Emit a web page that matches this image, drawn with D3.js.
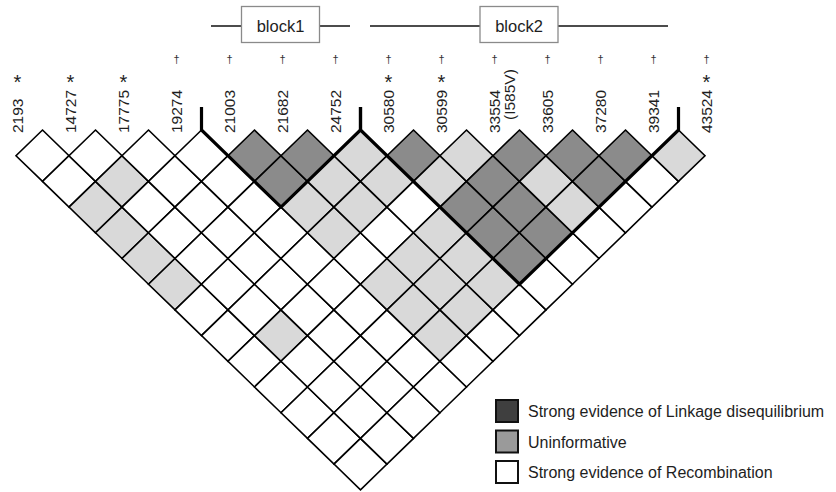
<!DOCTYPE html>
<html>
<head>
<meta charset="utf-8">
<script src="https://cdn.jsdelivr.net/npm/d3@7"></script>
<style>
  html, body { margin: 0; padding: 0; background: #fff; }
  svg { display: block; }
  text { font-family: "Liberation Sans", Arial, sans-serif; fill: #1e1e1e; }
</style>
</head>
<body>
<svg id="chart" width="836" height="492"></svg>
<script>
// Marker positions (bp) along the region
const markers = ["2193", "14727", "17775", "19274", "21003", "21682", "24752",
                 "30580", "30599", "33554", "33605", "37280", "39341", "43524"];
// Second label line for coding variants
const markerNotes = { "33554": "(I585V)" };
// Markers flagged with * and †
const starMarkers = ["2193", "14727", "17775", "30580", "30599", "43524"];
const daggerMarkers = ["19274", "21003", "21682", "24752", "30580", "30599",
                       "33554", "33605", "37280", "39341", "43524"];

// Pairwise LD class, one string per marker i, listing pairs (i, j) for j > i
// D = strong LD, U = uninformative, R = strong evidence of recombination
const ldRows = [
  "RRUUUURRRRRRR",
  "RURRRRRURRRR",
  "RRRRRRRRRRR",
  "RRRRRRRRRR",
  "DDUURUUUR",
  "DUURUUUR",
  "UURUUUR",
  "DUDDDR",
  "UDDDR",
  "DUUR",
  "DDR",
  "DR",
  "U"
];

// Haplotype blocks (first and last marker)
const blocks = [
  { name: "block1", first: "21003", last: "24752" },
  { name: "block2", first: "30580", last: "39341" }
];

const cellFill = { D: "#8b8b8b", U: "#d9d9d9", R: "#ffffff" };
const legendItems = [
  { label: "Strong evidence of Linkage disequilibrium", fill: "#3f3f3f" },
  { label: "Uninformative", fill: "#9a9a9a" },
  { label: "Strong evidence of Recombination", fill: "#ffffff" }
];

const svg = d3.select("#chart");

const x = d3.scalePoint().domain(markers).range([16, 705]);
const w = x.step() / 2;                       // half cell width
const rowTop = 130;                           // top of the first row of cells
const y = d3.scaleLinear().domain([0, markers.length]).range([rowTop, 489.8]);
const h = y(1) - y(0);                        // half cell height

// Build cell list from the LD rows
const cells = [];
ldRows.forEach((row, i) => {
  row.split("").forEach((c, k) => {
    const j = i + k + 1;
    cells.push({ i, j, cls: c });
  });
});

const xi = i => x(markers[i]);

svg.append("g").selectAll("path")
  .data(cells)
  .join("path")
  .attr("d", d => {
    const cx = (xi(d.i) + xi(d.j)) / 2;
    const cy = y(d.j - d.i);
    return `M${cx},${cy - h}L${cx + w},${cy}L${cx},${cy + h}L${cx - w},${cy}Z`;
  })
  .attr("fill", d => cellFill[d.cls])
  .attr("stroke", "#000")
  .attr("stroke-width", 1.6)
  .attr("stroke-linejoin", "miter");

// Block outlines
const blockG = svg.append("g");
blocks.forEach(b => {
  const a = markers.indexOf(b.first), e = markers.indexOf(b.last);
  const xl = xi(a) - w, xr = xi(e) + w;
  const bx = (xi(a) + xi(e)) / 2, by = y(e - a + 1);
  blockG.append("path")
    .attr("d", `M${xl},${rowTop - 23}L${xl},${rowTop}L${bx},${by}L${xr},${rowTop}L${xr},${rowTop - 23}`)
    .attr("fill", "none")
    .attr("stroke", "#000")
    .attr("stroke-width", 3.2)
    .attr("stroke-linejoin", "miter");

  // Block header: line with labelled box
  const lx0 = xi(a) - 17, lx1 = xi(e) + 16, mid = (lx0 + lx1) / 2;
  blockG.append("line")
    .attr("x1", lx0).attr("x2", lx1).attr("y1", 26).attr("y2", 26)
    .attr("stroke", "#111").attr("stroke-width", 1.5);
  blockG.append("rect")
    .attr("x", mid - 39).attr("y", 6.5).attr("width", 78).attr("height", 36)
    .attr("fill", "#fff").attr("stroke", "#8a8a8a").attr("stroke-width", 1.3);
  blockG.append("text")
    .attr("x", mid).attr("y", 26).attr("dy", "0.35em")
    .attr("text-anchor", "middle")
    .attr("font-size", 16.5)
    .text(b.name);
});

// Marker labels, reading upward from just above the cells
const labelG = svg.append("g");
markers.forEach(m => {
  labelG.append("text")
    .attr("transform", `translate(${x(m) + 1.5},133) rotate(-90)`)
    .attr("text-anchor", "start")
    .attr("dy", "0.35em")
    .attr("font-size", 15.5)
    .text(m);
  if (markerNotes[m]) {
    labelG.append("text")
      .attr("transform", `translate(${x(m) + 17},120) rotate(-90)`)
      .attr("text-anchor", "start")
      .attr("dy", "0.35em")
      .attr("font-size", 15.5)
      .text(markerNotes[m]);
  }
});

labelG.selectAll("text.star")
  .data(starMarkers)
  .join("text")
  .attr("class", "star")
  .attr("x", d => x(d) + 1.5)
  .attr("y", 89)
  .attr("text-anchor", "middle")
  .attr("font-size", 20)
  .text("*");

labelG.selectAll("text.dagger")
  .data(daggerMarkers)
  .join("text")
  .attr("class", "dagger")
  .attr("x", d => x(d) + 1.5)
  .attr("y", 63)
  .attr("text-anchor", "middle")
  .attr("font-size", 11)
  .style("fill", "#333")
  .text("\u2020");

// Legend
const legend = svg.append("g").attr("transform", "translate(496,400)");
const item = legend.selectAll("g")
  .data(legendItems)
  .join("g")
  .attr("transform", (d, k) => `translate(0,${k * 30.5})`);
item.append("rect")
  .attr("width", 22).attr("height", 22)
  .attr("fill", d => d.fill)
  .attr("stroke", "#111").attr("stroke-width", 2);
item.append("text")
  .attr("x", 32).attr("y", 17)
  .attr("font-size", 16)
  .attr("fill", "#222")
  .text(d => d.label);
</script>
</body>
</html>
